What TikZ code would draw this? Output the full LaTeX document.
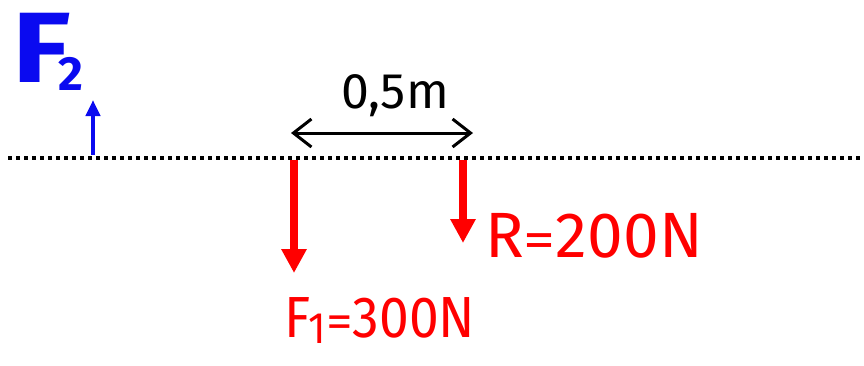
\documentclass[tikz,border=0pt]{standalone}
\usepackage{fontspec}
\setmainfont{Fira Sans}
\usetikzlibrary{arrows.meta}
\definecolor{pred}{RGB}{255,0,0}
\definecolor{pblue}{RGB}{10,10,240}
\tikzset{
  force/.style={pred, line width=8pt, -{Triangle[width=24pt,length=24pt]}},
  smallforce/.style={pblue, line width=4pt, -{Triangle[width=14pt,length=16pt]}},
  dim/.style={black, line width=3pt, {Straight Barb[length=18pt,width=28pt,line width=3pt]}-{Straight Barb[length=18pt,width=28pt,line width=3pt]}},
  beam/.style={black, line width=4pt, dash pattern=on 4pt off 4pt},
  lbl/.style={inner sep=0pt, anchor=center}
}
\begin{document}
\begin{tikzpicture}[x=1pt,y=-1pt]
\useasboundingbox (0,0) rectangle (864,365);
% beam
\coordinate (bl) at (8,158);
\coordinate (br) at (864,158);
\draw[beam] (bl) -- (br);
% force arrows
\coordinate (f1s) at (294,160);
\coordinate (f1e) at (294,273);
\coordinate (rs) at (463,160);
\coordinate (re) at (463,243);
\coordinate (f2s) at (93,155);
\coordinate (f2e) at (93,100);
\draw[force] (f1s) -- (f1e);
\draw[force] (rs) -- (re);
\draw[smallforce] (f2s) -- (f2e);
% dimension
\coordinate (dl) at (291,133);
\coordinate (dr) at (473,133);
\draw[dim] (dl) -- (dr);
% labels
\node[lbl, font=\fontsize{50}{50}\selectfont] (dimlbl) at (395,96) {0,5m};
\node[lbl, pblue, font=\bfseries\fontsize{100}{100}\selectfont, anchor=base west] (f2lbl) at (12,82)
  {\scalebox{1.2}[1]{F}\hspace{-12pt}\raisebox{-8pt}{\fontsize{48}{48}\selectfont 2}};
\node[lbl, pred, font=\fontsize{64}{64}\selectfont] (rlbl) at (594,236) {R\scalebox{1}[0.8]{=}200N};
\node[lbl, pred, font=\fontsize{58}{58}\selectfont, anchor=base west] (f1lbl) at (284,337)
  {\scalebox{0.92}[1]{F\hspace{-2pt}\raisebox{-6pt}{\fontsize{44}{44}\selectfont 1}\scalebox{1}[0.8]{=}300N}};
\end{tikzpicture}
\end{document}
